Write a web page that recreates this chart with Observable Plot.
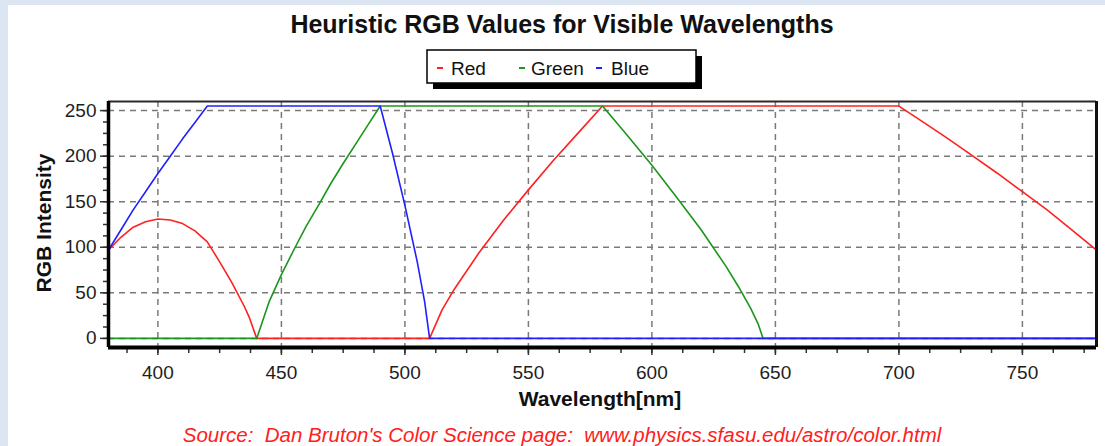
<!DOCTYPE html>
<html>
<head>
<meta charset="utf-8">
<script src="https://cdn.jsdelivr.net/npm/d3@7"></script>
<script src="https://cdn.jsdelivr.net/npm/@observablehq/plot@0.6"></script>
<style>
  html, body { margin: 0; padding: 0; }
  body { width: 1105px; height: 446px; background: #dce6f2; position: relative; overflow: hidden; }
  #panel { position: absolute; left: 8px; top: 5px; width: 1097px; height: 441px; background: #ffffff; }
  #chart { position: absolute; left: 0; top: 0; }
</style>
</head>
<body>
<div id="panel"></div>
<div id="chart"></div>
<script>
// ---- Data ----
const titleText = "Heuristic RGB Values for Visible Wavelengths";
const xLabel = "Wavelength[nm]";
const yLabel = "RGB Intensity";
const sourceText = "Source:  Dan Bruton's Color Science page:  www.physics.sfasu.edu/astro/color.html";
const seriesNames = ["Red", "Green", "Blue"];
const seriesColors = ["#ff2020", "#1a961a", "#2020ff"];

const xDomain = [380, 780];
const yDomain = [-10, 260];
const xTicks = [400, 450, 500, 550, 600, 650, 700, 750];
const yTicks = [0, 50, 100, 150, 200, 250];
const xMinorTicks = [387.5, 400, 412.5, 425, 437.5, 450, 462.5, 475, 487.5, 500, 512.5, 525, 537.5, 550, 562.5, 575, 587.5, 600, 612.5, 625, 637.5, 650, 662.5, 675, 687.5, 700, 712.5, 725, 737.5, 750, 762.5, 775];
const yMinorTicks = [0, 12.5, 25, 37.5, 50, 62.5, 75, 87.5, 100, 112.5, 125, 137.5, 150, 162.5, 175, 187.5, 200, 212.5, 225, 237.5, 250];

const redWl  = [380, 385, 390, 395, 400, 405, 410, 415, 420, 425, 430, 435, 437, 440, 510, 515, 520, 530, 540, 550, 560, 570, 580, 700, 710, 720, 730, 740, 750, 760, 770, 780];
const redVal = [ 97, 111, 122, 128, 131, 130, 126, 118, 106,  84,  61,  35,  23,   0,   0,  31,  54,  94, 130, 163, 195, 225, 255, 255, 237, 219, 200, 181, 161, 141, 119,  97];

const greenWl  = [380, 440, 445, 450, 455, 460, 465, 470, 475, 480, 485, 490, 580, 590, 600, 610, 620, 630, 635, 640, 643, 645, 780];
const greenVal = [  0,   0,  40,  70,  97, 123, 146, 170, 192, 213, 234, 255, 255, 223, 190, 155, 119,  79,  57,  33,  16,   0,   0];

const blueWl  = [380, 385, 390, 395, 400, 405, 410, 415, 420, 490, 495, 500, 505, 508, 510, 780];
const blueVal = [ 97, 119, 141, 161, 181, 200, 219, 237, 255, 255, 203, 146,  84,  40,   0,   0];

const toRows = (wl, val) => wl.map((w, i) => ({wl: w, v: val[i]}));
const redRows = toRows(redWl, redVal);
const greenRows = toRows(greenWl, greenVal);
const blueRows = toRows(blueWl, blueVal);

const FONT = "'Liberation Sans', Arial, Helvetica, sans-serif";
const gridStyle = {stroke: "#7a7a7a", strokeOpacity: 1, strokeWidth: 1.5, strokeDasharray: "6,5"};

const plot = Plot.plot({
  width: 1105,
  height: 446,
  marginLeft: 108,
  marginRight: 9,
  marginTop: 101,
  marginBottom: 99,
  style: {background: "transparent", fontFamily: FONT, fontSize: "19px", color: "#1e1e1e", overflow: "visible"},
  x: {domain: xDomain, label: null},
  y: {domain: yDomain, label: null},
  marks: [
    Plot.gridX(xTicks, gridStyle),
    Plot.gridY(yTicks, gridStyle),
    Plot.axisX(xMinorTicks, {tickSize: 6, tickFormat: () => "", label: null, stroke: "#333", strokeWidth: 1.5}),
    Plot.axisX(xTicks, {tickSize: 8, tickPadding: 10, fontSize: 19, label: null, stroke: "#333", strokeWidth: 1.5}),
    Plot.axisY(yMinorTicks, {tickSize: 5, tickFormat: () => "", label: null, stroke: "#333", strokeWidth: 1.5}),
    Plot.axisY(yTicks, {tickSize: 8, tickPadding: 4, fontSize: 19, label: null, stroke: "#333", strokeWidth: 1.5}),
    Plot.line(redRows, {x: "wl", y: "v", stroke: seriesColors[0], strokeWidth: 1.6}),
    Plot.line(greenRows, {x: "wl", y: "v", stroke: seriesColors[1], strokeWidth: 1.6}),
    Plot.line(blueRows, {x: "wl", y: "v", stroke: seriesColors[2], strokeWidth: 1.6}),
    Plot.ruleY([yDomain[1]], {stroke: "#2a2a2a", strokeWidth: 2}),
    Plot.ruleX([xDomain[1]], {stroke: "#111", strokeWidth: 3}),
    Plot.ruleX([xDomain[0]], {stroke: "#000", strokeWidth: 3.5}),
    Plot.ruleY([yDomain[0]], {stroke: "#000", strokeWidth: 4})
  ]
});

document.getElementById("chart").appendChild(plot);

// ---- Decorations: title, legend, axis titles, source ----
const svg = d3.select(plot);
const g = svg.append("g").attr("font-family", FONT).attr("text-anchor", "start");

g.append("text")
  .attr("x", 562).attr("y", 33)
  .attr("text-anchor", "middle")
  .attr("font-size", 25).attr("font-weight", "bold").attr("fill", "#111")
  .text(titleText);

// legend box with shadow
g.append("rect").attr("x", 433).attr("y", 56).attr("width", 269).attr("height", 33).attr("fill", "#000");
g.append("rect").attr("x", 427).attr("y", 50).attr("width", 269).attr("height", 33)
  .attr("fill", "#fff").attr("stroke", "#000").attr("stroke-width", 1.5);
const legendDashX = [437, 519, 596];
const legendTextX = [451, 531, 611];
seriesNames.forEach((name, i) => {
  g.append("line").attr("x1", legendDashX[i]).attr("x2", legendDashX[i] + 6)
    .attr("y1", 68).attr("y2", 68).attr("stroke", seriesColors[i]).attr("stroke-width", 2);
  g.append("text").attr("x", legendTextX[i]).attr("y", 74.5)
    .attr("text-anchor", "start")
    .attr("font-size", 19).attr("fill", "#111").text(name);
});

g.append("text")
  .attr("x", 600).attr("y", 406)
  .attr("text-anchor", "middle")
  .attr("font-size", 21).attr("font-weight", "bold").attr("fill", "#111")
  .text(xLabel);

g.append("text")
  .attr("transform", "translate(51,223) rotate(-90)")
  .attr("text-anchor", "middle")
  .attr("font-size", 21).attr("font-weight", "bold").attr("fill", "#111")
  .text(yLabel);

g.append("text")
  .attr("x", 562).attr("y", 442)
  .attr("text-anchor", "middle")
  .attr("font-size", 20.5).attr("font-style", "italic").attr("fill", "#ff2020")
  .style("white-space", "pre")
  .text(sourceText);
</script>
</body>
</html>
